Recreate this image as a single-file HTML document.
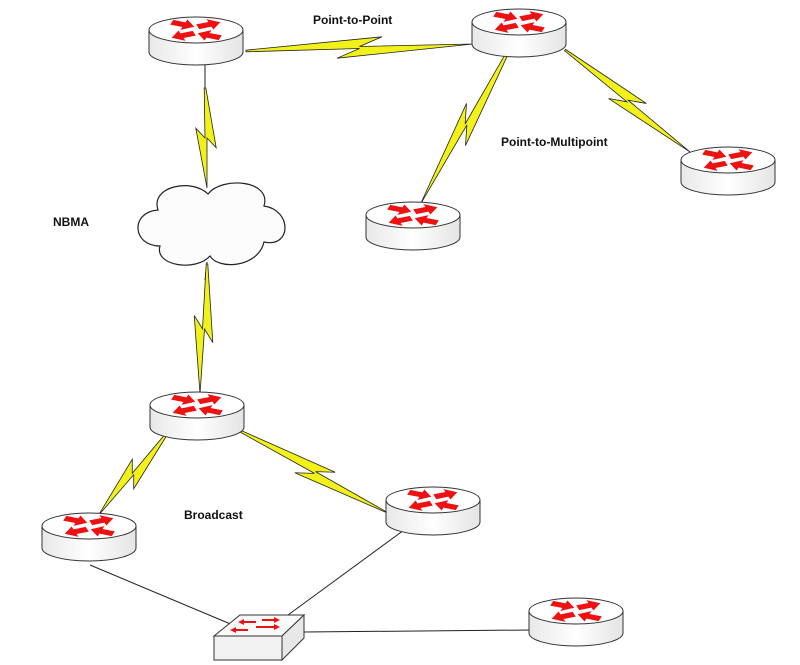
<!DOCTYPE html>
<html><head><meta charset="utf-8"><style>
html,body{margin:0;padding:0;background:#fff;}
svg{display:block}
text{font-family:"Liberation Sans",Arial,sans-serif;font-weight:bold;font-size:12px;fill:#111}
</style></head><body>
<svg id="s" width="800" height="665" viewBox="0 0 800 665" xmlns="http://www.w3.org/2000/svg">
<defs>
<linearGradient id="body" x1="0" x2="1" y1="0" y2="0">
<stop offset="0" stop-color="#e8e8e8"/><stop offset="0.5" stop-color="#ffffff"/><stop offset="1" stop-color="#e4e4e4"/>
</linearGradient>
</defs>
<g id="lines" stroke="#222" stroke-width="1" fill="none">
<line x1="90" y1="565" x2="240" y2="628"/>
<line x1="415" y1="522" x2="288" y2="615"/>
<line x1="304" y1="632" x2="530" y2="630"/>
<line x1="205" y1="62" x2="205" y2="90"/>
<line x1="207" y1="262" x2="205" y2="280"/>
</g>
<g id="bolts"></g>
<path d="M158,210 C150,186 192,178 208,194 C222,176 272,180 264,206 C292,210 292,248 264,242 C258,268 218,270 210,256 C196,272 154,266 160,246 C132,246 130,212 158,210 Z" fill="#fcfcfc" stroke="#222" stroke-width="1.2"/>
<g id="routers"></g>
<polygon points="240,615 304,615 282,636 214,636" fill="#fafafa" stroke="#333"/>
<polygon points="214,636 282,636 282,660 214,660" fill="#f2f2f2" stroke="#333"/>
<polygon points="282,636 304,615 304,638 282,660" fill="#e8e8e8" stroke="#333"/>
<g fill="#e11">
<polygon points="238,622 244,619 244,621 256,621 256,623 244,623 244,625"/>
<polygon points="280,620 274,617 274,619 262,619 262,621 274,621 274,623"/>
<polygon points="230,630 236,627 236,629 248,629 248,631 236,631 236,633"/>
<polygon points="280,627 274,624 274,626 256,626 256,628 274,628 274,630"/>
</g>
<text x="313" y="24">Point-to-Point</text>
<text x="501" y="146">Point-to-Multipoint</text>
<text x="53" y="226">NBMA</text>
<text x="184" y="519">Broadcast</text>
</svg>
<script>
var NS="http://www.w3.org/2000/svg";
var bolts=[[246,51,473,44],[205,88,207,188],[207,264,200,394],[512,44,420,205],[565,50,690,152],[168,432,98,516],[238,430,392,515]];
var bg=document.getElementById('bolts');
bolts.forEach(function(b){
 var dx=b[2]-b[0],dy=b[3]-b[1],L=Math.sqrt(dx*dx+dy*dy),a=Math.atan2(dy,dx)*180/Math.PI;
 var p=document.createElementNS(NS,'polygon');
 var pts=[[0,-0.8],[0.6*L,-10],[0.5*L,-1],[L,0],[0.4*L,10],[0.5*L,1],[0,0.8]];
 p.setAttribute('points',pts.map(function(q){return q[0].toFixed(1)+','+q[1]}).join(' '));
 p.setAttribute('transform','translate('+b[0]+','+b[1]+') rotate('+a.toFixed(2)+')');
 p.setAttribute('fill','#f2f21a');p.setAttribute('stroke','#222');p.setAttribute('stroke-width','0.8');
 bg.appendChild(p);
});
var routers=[[196,30],[519,22],[728,160],[413,215],[197,405],[433,500],[89,526],[576,611]];
var rg=document.getElementById('routers');
function arrowPts(cx,cy,ang){
 var base=[[-12,-4.5],[1,-4.5],[1,-10],[12,0],[1,10],[1,4.5],[-12,4.5]];
 var c=Math.cos(ang*Math.PI/180),s=Math.sin(ang*Math.PI/180);
 return base.map(function(q){var x=q[0]*c-q[1]*s+cx,y=q[0]*s+q[1]*c+cy;return x.toFixed(1)+','+(y*0.55).toFixed(1);}).join(' ');
}
var arr=[[-13,-10,20],[13,-10,-20],[-13,10,160],[13,10,-160]];
routers.forEach(function(r){
 var g=document.createElementNS(NS,'g');g.setAttribute('transform','translate('+r[0]+','+r[1]+')');
 var b=document.createElementNS(NS,'path');
 b.setAttribute('d','M-47,0 L-47,22 A47,13 0 0 0 47,22 L47,0 Z');b.setAttribute('fill','url(#body)');b.setAttribute('stroke','#333');g.appendChild(b);
 var e=document.createElementNS(NS,'ellipse');e.setAttribute('rx','47');e.setAttribute('ry','13');e.setAttribute('fill','#fff');e.setAttribute('stroke','#333');g.appendChild(e);
 arr.forEach(function(q){var p=document.createElementNS(NS,'polygon');p.setAttribute('points',arrowPts(q[0],q[1],q[2]));p.setAttribute('fill','#ee1111');g.appendChild(p);});
 rg.appendChild(g);
});
</script>
</body></html>
